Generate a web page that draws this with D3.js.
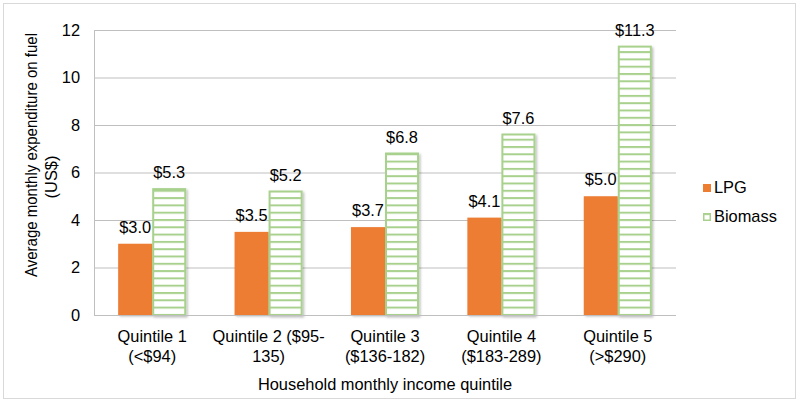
<!DOCTYPE html>
<html>
<head>
<meta charset="utf-8">
<style>
  body { margin: 0; background: #fff; }
  svg { font-family: 'Liberation Sans', Arial, sans-serif; }
  .grid line { stroke: #bfbfbf; stroke-width: 1px; }
  .grid .domain { display: none; }
  .y .domain { display: none; }
  .y .tick line { display: none; }
  .y .tick text { font-size: 16.4px; fill: #000; }
  .value { font-size: 16.4px; fill: #000; }
  .cat { font-size: 16.4px; fill: #000; }
  .title { font-size: 16.4px; fill: #000; }
</style>
</head>
<body>
<svg width="800" height="404"></svg>
<script src="https://d3js.org/d3.v7.min.js"></script>
<script>
  // data
  let categories = ["Q1", "Q2", "Q3", "Q4", "Q5"]
  let categoryLabels = [
    ["Quintile 1", "(<$94)"],
    ["Quintile 2 ($95-", "135)"],
    ["Quintile 3", "($136-182)"],
    ["Quintile 4", "($183-289)"],
    ["Quintile 5", "(>$290)"]
  ]
  let series = ["LPG", "Biomass"]
  let lpg = [3.0, 3.5, 3.7, 4.1, 5.0]
  let biomass = [5.3, 5.2, 6.8, 7.6, 11.3]
  let yTicks = [0, 2, 4, 6, 8, 10, 12]

  let svg = d3.select("svg")

  let margin = { top: 30, right: 124, bottom: 89, left: 94 }
  let width = 800, height = 404

  // outer frame
  svg.append("rect")
    .attr("x", 3.5).attr("y", 3.5)
    .attr("width", 792).attr("height", 395)
    .style("fill", "none").style("stroke", "#d9d9d9")

  // stripe pattern for biomass
  let defs = svg.append("defs")
  let pat = defs.append("pattern")
    .attr("id", "stripes")
    .attr("patternUnits", "userSpaceOnUse")
    .attr("width", 10).attr("height", 7.3)
  pat.append("rect").attr("width", 10).attr("height", 7.3).style("fill", "#fff")
  pat.append("line")
    .attr("x1", 0).attr("x2", 10).attr("y1", 1).attr("y2", 1)
    .style("stroke", "#a9d18e").style("stroke-width", 2)

  let shadow = defs.append("filter").attr("id", "shadow")
    .attr("x", "-20%").attr("y", "-5%").attr("width", "150%").attr("height", "110%")
  shadow.append("feDropShadow")
    .attr("dx", 1.5).attr("dy", 1.5).attr("stdDeviation", 1.2)
    .attr("flood-color", "#000").attr("flood-opacity", 0.25)

  let x = d3.scaleBand()
    .domain(categories)
    .range([margin.left, width - margin.right])

  let x1 = d3.scaleBand()
    .domain(series)
    .range([0, x.bandwidth()])
    .paddingOuter(0.71)

  let y = d3.scaleLinear()
    .domain([0, 12])
    .range([315, margin.top])

  // gridlines
  svg.append("g")
    .attr("class", "grid")
    .attr("transform", `translate(${margin.left},0)`)
    .call(d3.axisRight(y).tickValues(yTicks).tickSize(width - margin.right - margin.left).tickFormat(""))

  // left axis line
  svg.append("line")
    .attr("x1", margin.left + 0.5).attr("x2", margin.left + 0.5)
    .attr("y1", y(12)).attr("y2", y(0))
    .style("stroke", "#bfbfbf")

  svg.append("g")
    .attr("class", "y")
    .attr("transform", `translate(${margin.left - 8},0)`)
    .call(d3.axisLeft(y).tickValues(yTicks).tickSize(0).tickPadding(6))

  let rows = categories.map((c, i) => ({ cat: c, LPG: lpg[i], Biomass: biomass[i] }))

  let groups = svg.append("g")
    .selectAll("g")
    .data(rows)
    .join("g")
    .attr("transform", d => `translate(${x(d.cat)},0)`)

  groups.selectAll("rect")
    .data(d => series.map(s => ({ s: s, v: d[s] })))
    .join("rect")
    .attr("x", d => x1(d.s) + (d.s == "Biomass" ? 1 : 0))
    .attr("y", d => y(d.v))
    .attr("width", d => x1.bandwidth() - (d.s == "Biomass" ? 2 : 0))
    .attr("height", d => y(0) - y(d.v))
    .style("fill", d => d.s == "LPG" ? "#ed7d31" : "url(#stripes)")
    .style("stroke", d => d.s == "LPG" ? "none" : "#a9d18e")
    .style("stroke-width", 2)
    .attr("filter", "url(#shadow)")

  groups.selectAll("text")
    .data(d => series.map(s => ({ s: s, v: d[s] })))
    .join("text")
    .attr("class", "value")
    .attr("x", d => x1(d.s) + x1.bandwidth() / 2)
    .attr("y", d => y(d.v) - 11)
    .attr("text-anchor", "middle")
    .text(d => "$" + d.v.toFixed(1))

  // baseline
  svg.append("line")
    .attr("x1", margin.left).attr("x2", width - margin.right)
    .attr("y1", y(0) + 0.5).attr("y2", y(0) + 0.5)
    .style("stroke", "#bfbfbf")

  // category labels
  let cats = svg.append("g")
    .selectAll("text")
    .data(categories)
    .join("text")
    .attr("class", "cat")
    .attr("text-anchor", "middle")
    .attr("x", d => x(d) + x.bandwidth() / 2)
    .attr("y", 342)
  cats.selectAll("tspan")
    .data((d, i) => categoryLabels[i])
    .join("tspan")
    .attr("x", function () { return this.parentNode.getAttribute("x") })
    .attr("dy", (d, i) => i == 0 ? 0 : 19.5)
    .text(d => d)

  svg.append("text")
    .attr("class", "title")
    .attr("text-anchor", "middle")
    .attr("x", (margin.left + width - margin.right) / 2)
    .attr("y", 390)
    .text("Household monthly income quintile")

  // y title, two lines (Excel centres them slightly apart)
  svg.append("text")
    .attr("class", "title")
    .attr("text-anchor", "middle")
    .attr("textLength", 244)
    .attr("lengthAdjust", "spacingAndGlyphs")
    .attr("transform", "translate(37,155) rotate(-90)")
    .text("Average monthly expenditure on fuel")
  svg.append("text")
    .attr("class", "title")
    .attr("text-anchor", "middle")
    .attr("transform", "translate(57,177) rotate(-90)")
    .text("(US$)")

  // legend
  let legend = svg.append("g")
    .selectAll("g")
    .data(series)
    .join("g")
    .attr("transform", (d, i) => `translate(703,${184 + i * 29})`)
  legend.append("rect")
    .attr("x", d => d == "LPG" ? 0 : 0.75)
    .attr("y", d => d == "LPG" ? 0 : 0.75)
    .attr("width", d => d == "LPG" ? 8 : 6.5)
    .attr("height", d => d == "LPG" ? 8 : 6.5)
    .style("fill", d => d == "LPG" ? "#ed7d31" : "url(#stripes)")
    .style("stroke", d => d == "LPG" ? "none" : "#a9d18e")
    .style("stroke-width", 1.5)
  legend.append("text")
    .attr("x", 11)
    .attr("y", 8.5)
    .style("font-size", "16.4px")
    .text(d => d)
</script>
</body>
</html>
